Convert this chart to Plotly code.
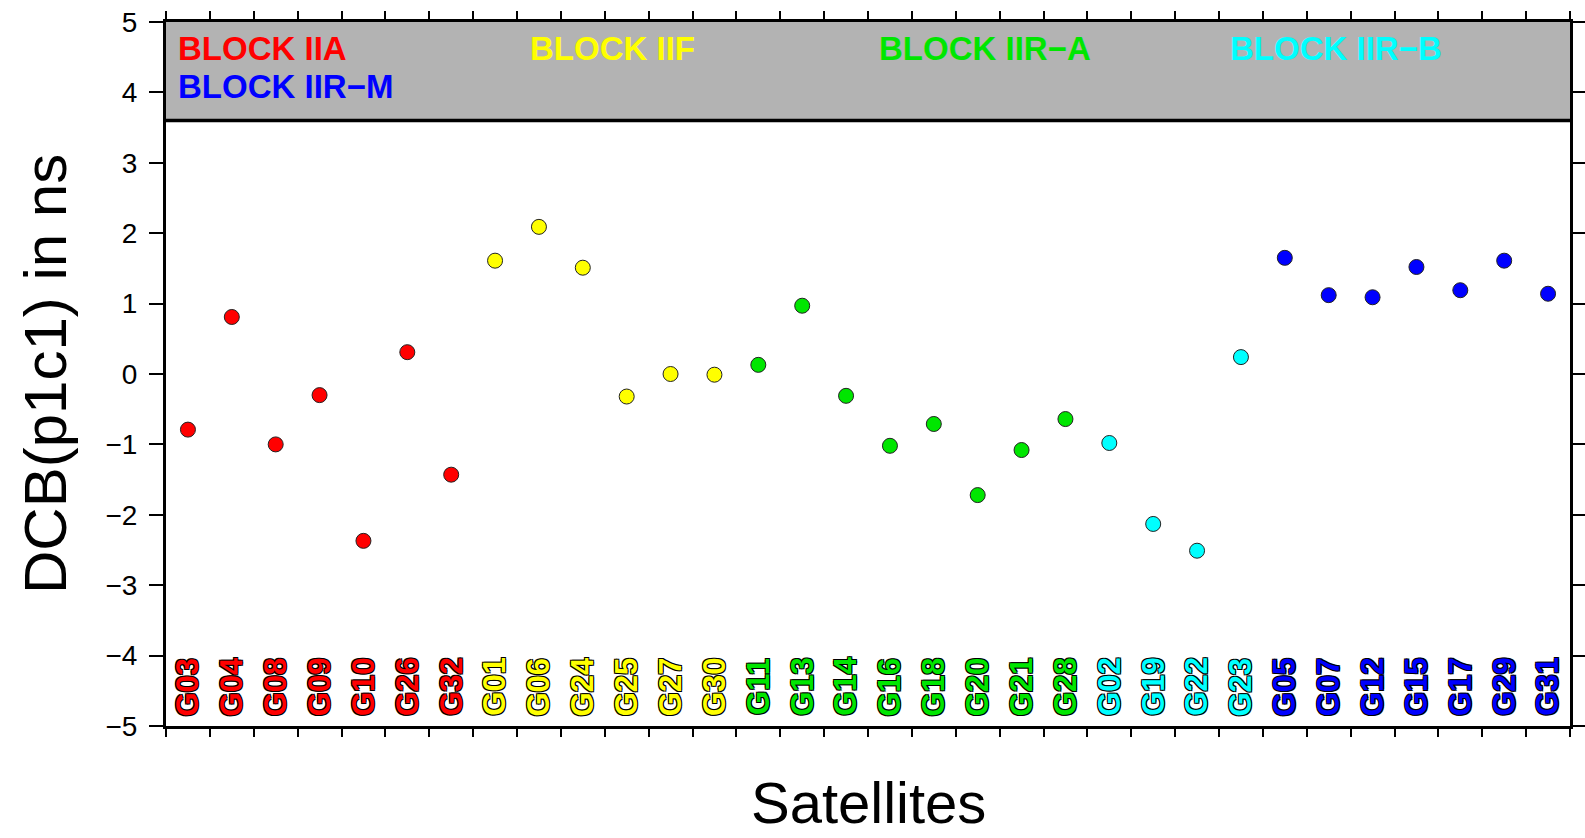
import plotly.graph_objects as go

# GPS satellites grouped by block, in plotting order
satellites = ["G03", "G04", "G08", "G09", "G10", "G26", "G32",
              "G01", "G06", "G24", "G25", "G27", "G30",
              "G11", "G13", "G14", "G16", "G18", "G20", "G21", "G28",
              "G02", "G19", "G22", "G23",
              "G05", "G07", "G12", "G15", "G17", "G29", "G31"]
blocks = ["BLOCK IIA"] * 7 + ["BLOCK IIF"] * 6 + ["BLOCK IIR-A"] * 8 + \
         ["BLOCK IIR-B"] * 4 + ["BLOCK IIR-M"] * 7
dcb_ns = [-0.79, 0.81, -1.00, -0.30, -2.37, 0.31, -1.43,
          1.61, 2.09, 1.51, -0.32, 0.00, -0.01,
          0.13, 0.97, -0.31, -1.02, -0.71, -1.72, -1.08, -0.64,
          -0.98, -2.13, -2.51, 0.24,
          1.65, 1.12, 1.09, 1.52, 1.19, 1.61, 1.14]

block_colors = {
    "BLOCK IIA": "#ff0000",
    "BLOCK IIF": "#ffff00",
    "BLOCK IIR-A": "#00e600",
    "BLOCK IIR-B": "#00ffff",
    "BLOCK IIR-M": "#0000ff",
}
# legend entries in the grey band: (label, x position, row)
legend_items = [("BLOCK IIA", 0.22, 0), ("BLOCK IIF", 8.25, 0),
                ("BLOCK IIR-A", 16.2, 0), ("BLOCK IIR-B", 24.2, 0),
                ("BLOCK IIR-M", 0.22, 1)]

W, H = 1585, 838
L, R, T, B = 166, 15, 22, 112

x_pos = [i + 0.5 for i in range(len(satellites))]
colors = [block_colors[b] for b in blocks]

fig = go.Figure()
fig.add_trace(go.Scatter(
    x=x_pos, y=dcb_ns, mode="markers",
    marker=dict(size=15, color=colors, line=dict(color="#222222", width=1)),
    hovertext=satellites, showlegend=False,
))

font = "Liberation Sans, Arial, Helvetica, sans-serif"
outline = "-1px -1px 0 #000, 1px -1px 0 #000, -1px 1px 0 #000, 1px 1px 0 #000"

annotations = []
for x, name, blk in zip(x_pos, satellites, blocks):
    annotations.append(dict(
        x=x, y=-4.44, xref="x", yref="y", text=f"<b>{name}</b>",
        textangle=-90, showarrow=False, xanchor="center", yanchor="middle",
        font=dict(family=font, size=31, color=block_colors[blk], shadow=outline),
    ))

for label, lx, row in legend_items:
    annotations.append(dict(
        x=lx, y=4.62 - 0.54 * row, xref="x", yref="y",
        text=f"<b>{label.replace('-', '−')}</b>",
        showarrow=False, xanchor="left", yanchor="middle",
        font=dict(family=font, size=33, color=block_colors[label]),
    ))

annotations.append(dict(
    x=0, y=0.5, xref="paper", yref="paper", text="DCB(p1c1) in ns",
    textangle=-90, showarrow=False, xanchor="center", yanchor="middle",
    xshift=-121, font=dict(family=font, size=60, color="black"),
))
annotations.append(dict(
    x=0.5, y=0, xref="paper", yref="paper", text="Satellites",
    showarrow=False, xanchor="center", yanchor="bottom",
    yshift=-111, font=dict(family=font, size=58, color="black"),
))

shapes = [
    dict(type="rect", xref="x", yref="y", x0=0, x1=32, y0=3.6, y1=5,
         fillcolor="#b3b3b3", line=dict(width=0), layer="below"),
    dict(type="line", xref="x", yref="y", x0=0, x1=32, y0=3.6, y1=3.6,
         line=dict(color="black", width=3.5)),
]

fig.update_layout(
    width=W, height=H, autosize=False,
    margin=dict(l=L, r=R, t=T, b=B, pad=0, autoexpand=False),
    paper_bgcolor="white", plot_bgcolor="white",
    annotations=annotations, shapes=shapes,
    xaxis=dict(range=[0, 32], dtick=1, tick0=0, showticklabels=False,
               ticks="outside", ticklen=8, tickwidth=2, tickcolor="black",
               showline=True, linecolor="black", linewidth=3, mirror="ticks",
               showgrid=False, zeroline=False, fixedrange=True,
               automargin=False),
    yaxis=dict(range=[-5, 5], dtick=1, tick0=0,
               ticks="outside", ticklen=14, tickwidth=2, tickcolor="black",
               showline=True, linecolor="black", linewidth=3, mirror="ticks",
               showgrid=False, zeroline=False, fixedrange=True,
               tickfont=dict(family=font, size=28, color="black"),
               ticklabelstandoff=6, automargin=False),
)

fig.write_html("out.html", config={"responsive": False})
